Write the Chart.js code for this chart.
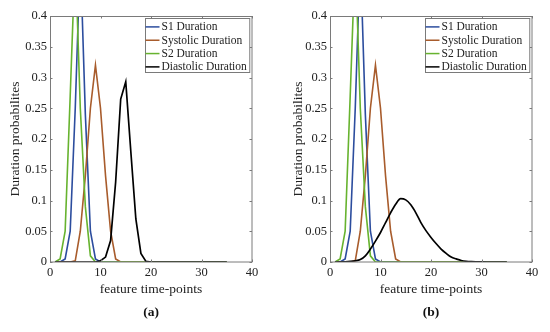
<!DOCTYPE html>
<html><head><meta charset="utf-8">
<script src="https://cdn.jsdelivr.net/npm/chart.js@4"></script>
<style>
html,body{margin:0;padding:0;background:#fff;overflow:hidden;width:550px;height:332px}
.p{position:absolute;top:0}
</style></head><body>
<div class="p" style="left:0"><canvas id="ca" width="275" height="332"></canvas></div>
<div class="p" style="left:275px"><canvas id="cb" width="275" height="332"></canvas></div>
<script>
// ---- data ----
const xPoints = [1,2,3,4,5,6,7,8,9,10,11,12,13,14,15,16,17,18,19,20,21,22,23,24,25,26,27,28,29,30,31,32,33,34,35];
const s1Duration       = [0,0,0.005,0.05,0.25,0.5,0.24,0.05,0.005,0,0,0,0,0,0,0,0,0,0,0,0,0,0,0,0,0,0,0,0,0,0,0,0,0,0];
const systolicDuration = [0,0,0,0,0.002,0.05,0.14,0.25,0.32,0.25,0.14,0.05,0.005,0,0,0,0,0,0,0,0,0,0,0,0,0,0,0,0,0,0,0,0,0,0];
const s2Duration       = [0,0.005,0.05,0.27,0.5,0.25,0.09,0.01,0,0,0,0,0,0,0,0,0,0,0,0,0,0,0,0,0,0,0,0,0,0,0,0,0,0,0];
const diastolicA       = [0,0,0,0,0,0,0,0,0,0.002,0.008,0.035,0.13,0.265,0.293,0.18,0.07,0.014,0.001,0,0,0,0,0,0,0,0,0,0,0,0,0,0,0,0];
const diastolicB       = [0,0.0001,0.0004,0.001,0.002,0.004,0.010,0.021,0.034,0.048,0.064,0.080,0.094,0.103,0.101,0.093,0.080,0.064,0.051,0.040,0.030,0.021,0.014,0.008,0.005,0.0025,0.0012,0.0006,0.0003,0.0001,0,0,0,0,0];
const xTicks = [0,10,20,30,40];
const yTicks = [0,0.05,0.1,0.15,0.2,0.25,0.3,0.35,0.4];
const yTickLabels = ['0','0.05','0.1','0.15','0.2','0.25','0.3','0.35','0.4'];
const seriesNames = ['S1 Duration','Systolic Duration','S2 Duration','Diastolic Duration'];
const seriesColors = ['#2c4d9e','#a85c2c','#67b32f','#000000'];
const panelLabels = ['(a)','(b)'];
const xTitle = 'feature time-points';
const yTitle = 'Duration probabilites';

// ---- style ----
const SERIF = '"Liberation Serif", "Times New Roman", serif';
const TXT = '#222';
const AX = '#7a7a7a';

const pts = arr => xPoints.map((x,i)=>({x:x,y:arr[i]}));

const framePlugin = {
  id:'frame',
  afterDraw(chart){
    const {ctx, chartArea:a} = chart;
    const xs = chart.scales.x, ys = chart.scales.y;
    ctx.save();
    ctx.strokeStyle = AX; ctx.lineWidth = 1;
    ctx.strokeRect(Math.round(a.left)+0.5, Math.round(a.top)+0.5, Math.round(a.right-a.left)-1+0.5, Math.round(a.bottom-a.top)-0.5);
    ctx.beginPath();
    const tl = 2.5;
    xTicks.forEach(v=>{
      const px = Math.round(xs.getPixelForValue(v))+0.5;
      ctx.moveTo(px, a.bottom); ctx.lineTo(px, a.bottom-tl);
      ctx.moveTo(px, a.top); ctx.lineTo(px, a.top+tl);
    });
    yTicks.forEach(v=>{
      const py = Math.round(ys.getPixelForValue(v))+0.5;
      ctx.moveTo(a.left, py); ctx.lineTo(a.left+tl, py);
      ctx.moveTo(a.right, py); ctx.lineTo(a.right-tl, py);
    });
    ctx.stroke();
    // legend
    ctx.font = '11.5px ' + SERIF;
    let tw = 0;
    seriesNames.forEach(n=>{ tw = Math.max(tw, ctx.measureText(n).width); });
    const lineLen = 14, gap = 2;
    const bw = lineLen + gap + tw + 3;
    const bh = 54;
    const bx = Math.round(a.right - 3 - bw) + 0.5;
    const by = Math.round(a.top + 2) + 0.5;
    ctx.fillStyle = '#fff';
    ctx.fillRect(bx, by, bw, bh);
    ctx.strokeStyle = AX;
    ctx.strokeRect(bx, by, bw, bh);
    ctx.textBaseline = 'middle';
    ctx.textAlign = 'left';
    seriesNames.forEach((n,i)=>{
      const cy = by + 8.4 + i*13.33;
      ctx.strokeStyle = seriesColors[i]; ctx.lineWidth = 1.5;
      ctx.beginPath(); ctx.moveTo(bx, cy); ctx.lineTo(bx+lineLen, cy); ctx.stroke();
      ctx.fillStyle = TXT;
      ctx.fillText(n, bx + lineLen + gap, cy + 0.5);
    });
    ctx.restore();
  }
};

function makeChart(id, diaData, label, yWidth, rightPad, titleX, smoothDia){
  const tickFont = {family:SERIF, size:12.5};
  const titleFont = {family:SERIF, size:13.5};
  const series = [s1Duration, systolicDuration, s2Duration, diaData];
  const orders = [3,2,1,0];
  const datasets = series.map((arr,i)=>({
    label: seriesNames[i],
    data: pts(arr),
    borderColor: seriesColors[i],
    backgroundColor: seriesColors[i],
    borderWidth: i===3 ? 1.7 : 1.6,
    pointRadius: 0,
    tension: 0,
    cubicInterpolationMode: (i===3 && smoothDia) ? 'monotone' : 'default',
    order: orders[i],
    fill: false
  }));
  return new Chart(document.getElementById(id), {
    type:'line',
    data:{datasets},
    options:{
      responsive:false, animation:false, devicePixelRatio:1,
      layout:{padding:{top:16, right:rightPad, left:0, bottom:0}},
      plugins:{
        legend:{display:false}, tooltip:{enabled:false},
        title:{display:true, position:'bottom', fullSize:false, text:label,
          font:{family:SERIF, size:13.5, weight:'bold'}, color:'#111', padding:{top:0,bottom:11}}
      },
      scales:{
        x:{type:'linear', min:0, max:40,
          afterBuildTicks: s=>{ s.ticks = xTicks.map(v=>({value:v})); },
          afterFit: s=>{ s.height = 42.8; },
          grid:{display:false, drawTicks:false}, border:{display:false},
          ticks:{padding:3, font:tickFont, color:TXT, maxRotation:0, autoSkip:false, callback:v=>String(v)},
          title:{display:true, text:xTitle, font:titleFont, color:TXT, padding:{top:0,bottom:7.7}}
        },
        y:{type:'linear', min:0, max:0.4,
          afterBuildTicks: s=>{ s.ticks = yTicks.map(v=>({value:v})); },
          afterFit: s=>{ s.width = yWidth; },
          grid:{display:false, drawTicks:false}, border:{display:false},
          ticks:{padding:3, font:tickFont, color:TXT, autoSkip:false,
            callback:(v,i)=>yTickLabels[i]},
          title:{display:true, text:yTitle, font:titleFont, color:TXT, padding:{top:titleX-8.1, bottom:0}}
        }
      }
    },
    plugins:[framePlugin]
  });
}

makeChart('ca', diastolicA, panelLabels[0], 50, 23, 15, false);
makeChart('cb', diastolicB, panelLabels[1], 55, 18, 23, true);
</script>
</body></html>
